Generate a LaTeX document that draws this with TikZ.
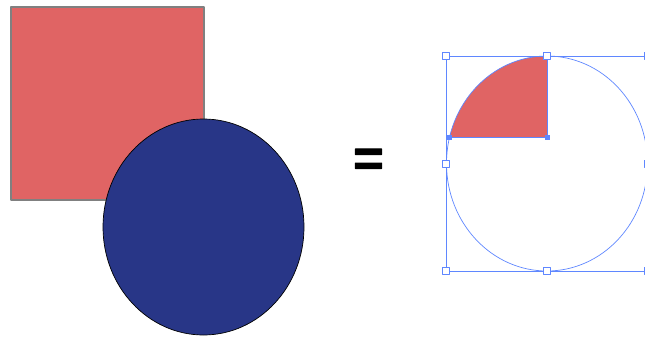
\documentclass[tikz,border=0pt]{standalone}
\usepackage{fontspec}
\newfontfamily\eqfont[FakeBold=2]{Liberation Sans Bold}
\definecolor{shapered}{RGB}{224,100,100}
\definecolor{shapeblue}{RGB}{40,54,135}
\definecolor{selblue}{RGB}{95,135,255}
\tikzset{
  handle/.style={draw=selblue, fill=white, line width=0.9pt, minimum size=7.5pt, inner sep=0pt},
  anchorpt/.style={fill=selblue, minimum size=5pt, inner sep=0pt},
  selline/.style={draw=selblue, line width=0.9pt}
}
\begin{document}
\begin{tikzpicture}[x=1pt, y=-1pt, line join=round]
  \useasboundingbox (0,0) rectangle (645,340);
  \clip (0,0) rectangle (645,340);
  \def\rx{100.5}
  \def\ry{108}
  % left: square under the ellipse
  \coordinate (S1) at (11,7);
  \coordinate (S2) at (204,200);
  \coordinate (E) at (203.5,227);
  \draw[fill=shapered, draw=gray, line width=1.2pt] (S1) rectangle (S2);
  \draw[fill=shapeblue, draw=black, line width=0.7pt] (E) ellipse [x radius=\rx, y radius=\ry];
  % equals sign
  \node[inner sep=0pt, font=\eqfont\fontsize{52}{52}\selectfont] (eq) at (368.5,162.5) {=};
  % right: the piece that is left, still selected
  \coordinate (C) at (547,163.5);
  \coordinate (T) at (547,56);
  \coordinate (K) at (547,137);
  \coordinate (A) at (449.5,137);
  \begin{scope}
    \clip (C) ellipse [x radius=\rx, y radius=107.5];
    \fill[shapered] (440,40) rectangle (K);
  \end{scope}
  \draw[selline, line width=0.7pt] (C) ellipse [x radius=\rx, y radius=107.5];
  \draw[selline] (T) -- (K) -- (A);
  \draw[selline] (446,56) rectangle (648,271);
  \foreach \p in {A, K} {
    \node[anchorpt] at (\p) {};
  }
  \foreach \x/\y in {446/56, 547/56, 648/56, 446/164, 648/164, 446/271, 547/271, 648/271} {
    \node[handle] at (\x,\y) {};
  }
\end{tikzpicture}
\end{document}
